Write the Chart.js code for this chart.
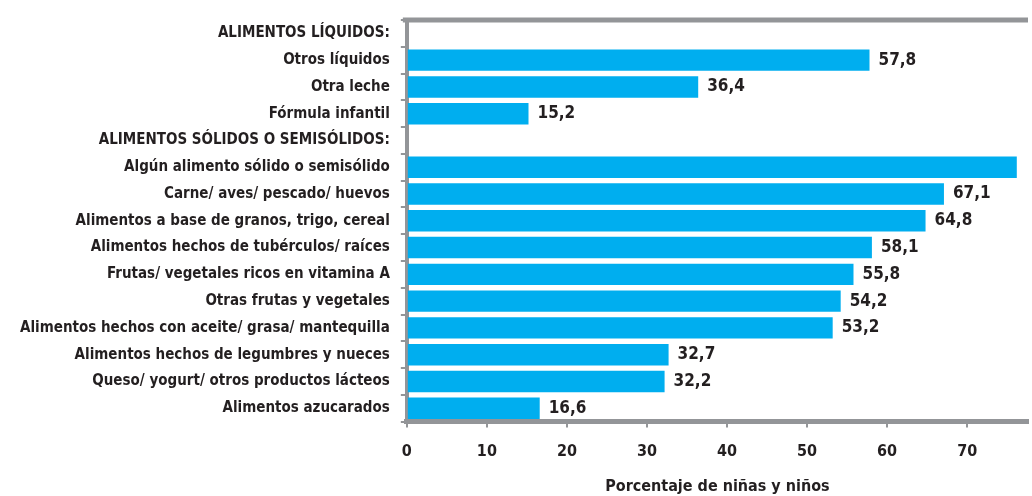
<!DOCTYPE html>
<html>
<head>
<meta charset="utf-8">
<script src="https://cdn.jsdelivr.net/npm/chart.js@4.4.0/dist/chart.umd.min.js"></script>
<style>
    html, body { margin: 0; padding: 0; background: #fff; }
    #wrap { width: 1032px; height: 496px; }
</style>
</head>
<body>
<div id="wrap"><canvas id="myChart"></canvas></div>
<script>
'use strict';

let categories = ['ALIMENTOS LÍQUIDOS:', 'Otros líquidos', 'Otra leche', 'Fórmula infantil',
    'ALIMENTOS SÓLIDOS O SEMISÓLIDOS:', 'Algún alimento sólido o semisólido',
    'Carne/ aves/ pescado/ huevos', 'Alimentos a base de granos, trigo, cereal',
    'Alimentos hechos de tubérculos/ raíces', 'Frutas/ vegetales ricos en vitamina A',
    'Otras frutas y vegetales', 'Alimentos hechos con aceite/ grasa/ mantequilla',
    'Alimentos hechos de legumbres y nueces', 'Queso/ yogurt/ otros productos lácteos',
    'Alimentos azucarados'];
let values = [null, 57.8, 36.4, 15.2, null, 76.2, 67.1, 64.8, 58.1, 55.8, 54.2, 53.2, 32.7, 32.2, 16.6];
let xTicks = [0, 10, 20, 30, 40, 50, 60, 70];
let axisTitle = 'Porcentaje de niñas y niños';

const gray = '#939598';
const blue = '#00AEEF';
const ink = '#231F20';
const fontFamily = '"Liberation Sans Narrow", "DejaVu Sans Condensed", "Liberation Sans", sans-serif';

// value labels next to bars + top frame line
const extras = {
    id: 'extras',
    afterDatasetsDraw(chart) {
        let ctx = chart.ctx;
        let meta = chart.getDatasetMeta(0);
        ctx.save();
        ctx.font = 'bold 17px ' + fontFamily;
        ctx.fillStyle = ink;
        ctx.textBaseline = 'middle';
        ctx.textAlign = 'left';
        for (let i = 0; i < values.length; i++) {
            if (values[i] === null) continue;
            let bar = meta.data[i];
            let txt = values[i].toFixed(1).replace('.', ',');
            let x = bar.x + 9;
            if (x + ctx.measureText(txt).width > chart.width) continue;
            ctx.fillText(txt, x, bar.y);
        }
        let a = chart.chartArea;
        ctx.strokeStyle = gray;
        ctx.lineWidth = 5;
        ctx.beginPath();
        ctx.moveTo(a.left - 4, a.top);
        ctx.lineTo(a.right, a.top);
        ctx.stroke();
        ctx.restore();
    }
};

let ctx = document.getElementById('myChart').getContext('2d');
let myChart = new Chart(ctx, {
    type: 'bar',
    data: {
        labels: categories,
        datasets: [{
            data: values,
            backgroundColor: blue,
            borderWidth: 0,
            barPercentage: 0.8,
            categoryPercentage: 1
        }]
    },
    options: {
        indexAxis: 'y',
        responsive: true,
        maintainAspectRatio: false,
        animation: false,
        layout: { padding: { top: 10, right: 4, left: 9, bottom: 0 } },
        plugins: {
            legend: { display: false },
            tooltip: { enabled: false }
        },
        scales: {
            x: {
                min: 0,
                max: 77.6,
                afterBuildTicks(scale) {
                    scale.ticks = xTicks.map(v => ({ value: v }));
                },
                grid: { drawOnChartArea: false, drawTicks: true, tickLength: 6, color: gray, lineWidth: 2 },
                border: { display: true, color: gray, width: 5 },
                ticks: {
                    color: ink,
                    padding: 15,
                    font: { family: fontFamily, size: 16, weight: 'bold' }
                },
                title: {
                    display: true,
                    text: axisTitle,
                    color: ink,
                    padding: { top: 0, bottom: 0 },
                    font: { family: fontFamily, size: 16, weight: 'bold' }
                }
            },
            y: {
                offset: true,
                grid: { offset: true, drawOnChartArea: false, drawTicks: true, tickLength: 6, color: gray, lineWidth: 2 },
                border: { display: true, color: gray, width: 4 },
                ticks: {
                    color: ink,
                    padding: 11,
                    autoSkip: false,
                    font: { family: fontFamily, size: 15, weight: 'bold' }
                }
            }
        }
    },
    plugins: [extras]
});
</script>
</body>
</html>
